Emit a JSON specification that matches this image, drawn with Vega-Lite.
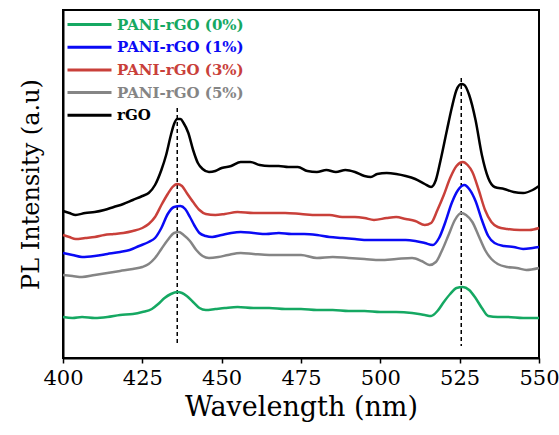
{
  "$schema": "https://vega.github.io/schema/vega-lite/v6.json",
  "width": 476,
  "height": 348,
  "autosize": {"type": "none"},
  "padding": {"left": 63, "top": 10, "right": 20, "bottom": 77},
  "background": "white",
  "config": {
    "view": {"stroke": "black", "strokeWidth": 2},
    "font": "DejaVu Serif"
  },
  "datasets": {
    "spectra": [
      {"series": "rGO", "wl": 400, "py": 211}, {"series": "rGO", "wl": 402, "py": 213}, {"series": "rGO", "wl": 404, "py": 215}, {"series": "rGO", "wl": 407, "py": 213}, {"series": "rGO", "wl": 410, "py": 212}, {"series": "rGO", "wl": 413, "py": 210}, {"series": "rGO", "wl": 416, "py": 207}, {"series": "rGO", "wl": 419, "py": 204}, {"series": "rGO", "wl": 422, "py": 200}, {"series": "rGO", "wl": 425, "py": 196}, {"series": "rGO", "wl": 427, "py": 193}, {"series": "rGO", "wl": 429, "py": 185}, {"series": "rGO", "wl": 431, "py": 170}, {"series": "rGO", "wl": 432.5, "py": 155}, {"series": "rGO", "wl": 434, "py": 135}, {"series": "rGO", "wl": 435, "py": 124}, {"series": "rGO", "wl": 436, "py": 119}, {"series": "rGO", "wl": 437, "py": 119}, {"series": "rGO", "wl": 438, "py": 123}, {"series": "rGO", "wl": 439.5, "py": 133}, {"series": "rGO", "wl": 441, "py": 150}, {"series": "rGO", "wl": 442.5, "py": 163}, {"series": "rGO", "wl": 444, "py": 169}, {"series": "rGO", "wl": 446, "py": 172}, {"series": "rGO", "wl": 448, "py": 171}, {"series": "rGO", "wl": 450, "py": 168}, {"series": "rGO", "wl": 453, "py": 166}, {"series": "rGO", "wl": 456, "py": 162}, {"series": "rGO", "wl": 459, "py": 162}, {"series": "rGO", "wl": 462, "py": 165}, {"series": "rGO", "wl": 465, "py": 166}, {"series": "rGO", "wl": 468, "py": 166}, {"series": "rGO", "wl": 471, "py": 167}, {"series": "rGO", "wl": 474, "py": 167}, {"series": "rGO", "wl": 477, "py": 171}, {"series": "rGO", "wl": 480, "py": 172}, {"series": "rGO", "wl": 483, "py": 170}, {"series": "rGO", "wl": 486, "py": 172}, {"series": "rGO", "wl": 489, "py": 170}, {"series": "rGO", "wl": 492, "py": 172}, {"series": "rGO", "wl": 495, "py": 176}, {"series": "rGO", "wl": 497, "py": 177}, {"series": "rGO", "wl": 499, "py": 174}, {"series": "rGO", "wl": 502, "py": 173}, {"series": "rGO", "wl": 505, "py": 174}, {"series": "rGO", "wl": 508, "py": 176}, {"series": "rGO", "wl": 511, "py": 179}, {"series": "rGO", "wl": 514, "py": 184}, {"series": "rGO", "wl": 516, "py": 187}, {"series": "rGO", "wl": 517.5, "py": 180}, {"series": "rGO", "wl": 519, "py": 160}, {"series": "rGO", "wl": 521, "py": 130}, {"series": "rGO", "wl": 522.5, "py": 108}, {"series": "rGO", "wl": 524, "py": 90}, {"series": "rGO", "wl": 525.5, "py": 84}, {"series": "rGO", "wl": 526.5, "py": 85}, {"series": "rGO", "wl": 528, "py": 95}, {"series": "rGO", "wl": 530, "py": 120}, {"series": "rGO", "wl": 532, "py": 155}, {"series": "rGO", "wl": 534, "py": 178}, {"series": "rGO", "wl": 536, "py": 187}, {"series": "rGO", "wl": 539, "py": 189}, {"series": "rGO", "wl": 542, "py": 192}, {"series": "rGO", "wl": 545, "py": 193}, {"series": "rGO", "wl": 548, "py": 190}, {"series": "rGO", "wl": 550, "py": 186},

      {"series": "PANI-rGO (3%)", "wl": 400, "py": 235}, {"series": "PANI-rGO (3%)", "wl": 402, "py": 237}, {"series": "PANI-rGO (3%)", "wl": 404, "py": 239}, {"series": "PANI-rGO (3%)", "wl": 407, "py": 238}, {"series": "PANI-rGO (3%)", "wl": 410, "py": 237}, {"series": "PANI-rGO (3%)", "wl": 413, "py": 235}, {"series": "PANI-rGO (3%)", "wl": 416, "py": 234}, {"series": "PANI-rGO (3%)", "wl": 419, "py": 233}, {"series": "PANI-rGO (3%)", "wl": 422, "py": 231}, {"series": "PANI-rGO (3%)", "wl": 425, "py": 228}, {"series": "PANI-rGO (3%)", "wl": 427, "py": 224}, {"series": "PANI-rGO (3%)", "wl": 429, "py": 217}, {"series": "PANI-rGO (3%)", "wl": 431, "py": 205}, {"series": "PANI-rGO (3%)", "wl": 433, "py": 194}, {"series": "PANI-rGO (3%)", "wl": 434.5, "py": 187}, {"series": "PANI-rGO (3%)", "wl": 436, "py": 184}, {"series": "PANI-rGO (3%)", "wl": 437.5, "py": 186}, {"series": "PANI-rGO (3%)", "wl": 439, "py": 193}, {"series": "PANI-rGO (3%)", "wl": 441, "py": 202}, {"series": "PANI-rGO (3%)", "wl": 443, "py": 210}, {"series": "PANI-rGO (3%)", "wl": 445, "py": 214}, {"series": "PANI-rGO (3%)", "wl": 448, "py": 215}, {"series": "PANI-rGO (3%)", "wl": 451, "py": 214}, {"series": "PANI-rGO (3%)", "wl": 455, "py": 212}, {"series": "PANI-rGO (3%)", "wl": 460, "py": 213}, {"series": "PANI-rGO (3%)", "wl": 465, "py": 213}, {"series": "PANI-rGO (3%)", "wl": 470, "py": 213}, {"series": "PANI-rGO (3%)", "wl": 475, "py": 214}, {"series": "PANI-rGO (3%)", "wl": 480, "py": 215}, {"series": "PANI-rGO (3%)", "wl": 484, "py": 215}, {"series": "PANI-rGO (3%)", "wl": 488, "py": 217}, {"series": "PANI-rGO (3%)", "wl": 492, "py": 217}, {"series": "PANI-rGO (3%)", "wl": 495, "py": 218}, {"series": "PANI-rGO (3%)", "wl": 498, "py": 220}, {"series": "PANI-rGO (3%)", "wl": 502, "py": 218}, {"series": "PANI-rGO (3%)", "wl": 505, "py": 217}, {"series": "PANI-rGO (3%)", "wl": 508, "py": 219}, {"series": "PANI-rGO (3%)", "wl": 511, "py": 221}, {"series": "PANI-rGO (3%)", "wl": 514, "py": 225}, {"series": "PANI-rGO (3%)", "wl": 516, "py": 223}, {"series": "PANI-rGO (3%)", "wl": 518, "py": 210}, {"series": "PANI-rGO (3%)", "wl": 520, "py": 195}, {"series": "PANI-rGO (3%)", "wl": 522, "py": 178}, {"series": "PANI-rGO (3%)", "wl": 524, "py": 166}, {"series": "PANI-rGO (3%)", "wl": 526, "py": 162}, {"series": "PANI-rGO (3%)", "wl": 527.5, "py": 165}, {"series": "PANI-rGO (3%)", "wl": 529, "py": 172}, {"series": "PANI-rGO (3%)", "wl": 531, "py": 190}, {"series": "PANI-rGO (3%)", "wl": 533, "py": 210}, {"series": "PANI-rGO (3%)", "wl": 535, "py": 222}, {"series": "PANI-rGO (3%)", "wl": 537, "py": 227}, {"series": "PANI-rGO (3%)", "wl": 540, "py": 229}, {"series": "PANI-rGO (3%)", "wl": 544, "py": 230}, {"series": "PANI-rGO (3%)", "wl": 547, "py": 230}, {"series": "PANI-rGO (3%)", "wl": 550, "py": 228},

      {"series": "PANI-rGO (1%)", "wl": 400, "py": 253}, {"series": "PANI-rGO (1%)", "wl": 403, "py": 255}, {"series": "PANI-rGO (1%)", "wl": 406, "py": 257}, {"series": "PANI-rGO (1%)", "wl": 410, "py": 256}, {"series": "PANI-rGO (1%)", "wl": 414, "py": 254}, {"series": "PANI-rGO (1%)", "wl": 418, "py": 252}, {"series": "PANI-rGO (1%)", "wl": 421, "py": 250}, {"series": "PANI-rGO (1%)", "wl": 424, "py": 246}, {"series": "PANI-rGO (1%)", "wl": 427, "py": 242}, {"series": "PANI-rGO (1%)", "wl": 429, "py": 238}, {"series": "PANI-rGO (1%)", "wl": 431, "py": 228}, {"series": "PANI-rGO (1%)", "wl": 433, "py": 214}, {"series": "PANI-rGO (1%)", "wl": 435, "py": 207}, {"series": "PANI-rGO (1%)", "wl": 437, "py": 206}, {"series": "PANI-rGO (1%)", "wl": 438.5, "py": 209}, {"series": "PANI-rGO (1%)", "wl": 440, "py": 217}, {"series": "PANI-rGO (1%)", "wl": 441.5, "py": 226}, {"series": "PANI-rGO (1%)", "wl": 443, "py": 233}, {"series": "PANI-rGO (1%)", "wl": 445, "py": 236}, {"series": "PANI-rGO (1%)", "wl": 447, "py": 237}, {"series": "PANI-rGO (1%)", "wl": 450, "py": 235}, {"series": "PANI-rGO (1%)", "wl": 453, "py": 233}, {"series": "PANI-rGO (1%)", "wl": 456, "py": 232}, {"series": "PANI-rGO (1%)", "wl": 460, "py": 233}, {"series": "PANI-rGO (1%)", "wl": 464, "py": 234}, {"series": "PANI-rGO (1%)", "wl": 468, "py": 233}, {"series": "PANI-rGO (1%)", "wl": 472, "py": 234}, {"series": "PANI-rGO (1%)", "wl": 476, "py": 234}, {"series": "PANI-rGO (1%)", "wl": 480, "py": 235}, {"series": "PANI-rGO (1%)", "wl": 484, "py": 237}, {"series": "PANI-rGO (1%)", "wl": 488, "py": 238}, {"series": "PANI-rGO (1%)", "wl": 492, "py": 239}, {"series": "PANI-rGO (1%)", "wl": 496, "py": 240}, {"series": "PANI-rGO (1%)", "wl": 500, "py": 240}, {"series": "PANI-rGO (1%)", "wl": 504, "py": 240}, {"series": "PANI-rGO (1%)", "wl": 508, "py": 240}, {"series": "PANI-rGO (1%)", "wl": 511, "py": 241}, {"series": "PANI-rGO (1%)", "wl": 514, "py": 243}, {"series": "PANI-rGO (1%)", "wl": 516.5, "py": 245}, {"series": "PANI-rGO (1%)", "wl": 518.5, "py": 238}, {"series": "PANI-rGO (1%)", "wl": 520.5, "py": 222}, {"series": "PANI-rGO (1%)", "wl": 522.5, "py": 203}, {"series": "PANI-rGO (1%)", "wl": 524.5, "py": 190}, {"series": "PANI-rGO (1%)", "wl": 526.5, "py": 185}, {"series": "PANI-rGO (1%)", "wl": 528, "py": 189}, {"series": "PANI-rGO (1%)", "wl": 530, "py": 201}, {"series": "PANI-rGO (1%)", "wl": 532, "py": 220}, {"series": "PANI-rGO (1%)", "wl": 534, "py": 236}, {"series": "PANI-rGO (1%)", "wl": 536, "py": 243}, {"series": "PANI-rGO (1%)", "wl": 539, "py": 246}, {"series": "PANI-rGO (1%)", "wl": 542, "py": 247}, {"series": "PANI-rGO (1%)", "wl": 545, "py": 249}, {"series": "PANI-rGO (1%)", "wl": 548, "py": 248}, {"series": "PANI-rGO (1%)", "wl": 550, "py": 247},

      {"series": "PANI-rGO (5%)", "wl": 400, "py": 275}, {"series": "PANI-rGO (5%)", "wl": 403, "py": 276}, {"series": "PANI-rGO (5%)", "wl": 406, "py": 277}, {"series": "PANI-rGO (5%)", "wl": 410, "py": 275}, {"series": "PANI-rGO (5%)", "wl": 414, "py": 273}, {"series": "PANI-rGO (5%)", "wl": 418, "py": 271}, {"series": "PANI-rGO (5%)", "wl": 422, "py": 269}, {"series": "PANI-rGO (5%)", "wl": 425, "py": 267}, {"series": "PANI-rGO (5%)", "wl": 427, "py": 264}, {"series": "PANI-rGO (5%)", "wl": 429, "py": 258}, {"series": "PANI-rGO (5%)", "wl": 431, "py": 249}, {"series": "PANI-rGO (5%)", "wl": 433, "py": 240}, {"series": "PANI-rGO (5%)", "wl": 435, "py": 233}, {"series": "PANI-rGO (5%)", "wl": 436.5, "py": 232}, {"series": "PANI-rGO (5%)", "wl": 438, "py": 235}, {"series": "PANI-rGO (5%)", "wl": 440, "py": 241}, {"series": "PANI-rGO (5%)", "wl": 442, "py": 250}, {"series": "PANI-rGO (5%)", "wl": 444, "py": 256}, {"series": "PANI-rGO (5%)", "wl": 446, "py": 258}, {"series": "PANI-rGO (5%)", "wl": 449, "py": 257}, {"series": "PANI-rGO (5%)", "wl": 452, "py": 255}, {"series": "PANI-rGO (5%)", "wl": 456, "py": 253}, {"series": "PANI-rGO (5%)", "wl": 460, "py": 254}, {"series": "PANI-rGO (5%)", "wl": 465, "py": 255}, {"series": "PANI-rGO (5%)", "wl": 470, "py": 255}, {"series": "PANI-rGO (5%)", "wl": 475, "py": 255}, {"series": "PANI-rGO (5%)", "wl": 480, "py": 258}, {"series": "PANI-rGO (5%)", "wl": 485, "py": 257}, {"series": "PANI-rGO (5%)", "wl": 490, "py": 258}, {"series": "PANI-rGO (5%)", "wl": 495, "py": 259}, {"series": "PANI-rGO (5%)", "wl": 500, "py": 260}, {"series": "PANI-rGO (5%)", "wl": 505, "py": 259}, {"series": "PANI-rGO (5%)", "wl": 510, "py": 258}, {"series": "PANI-rGO (5%)", "wl": 513, "py": 261}, {"series": "PANI-rGO (5%)", "wl": 515.5, "py": 265}, {"series": "PANI-rGO (5%)", "wl": 517.5, "py": 262}, {"series": "PANI-rGO (5%)", "wl": 519.5, "py": 250}, {"series": "PANI-rGO (5%)", "wl": 521.5, "py": 235}, {"series": "PANI-rGO (5%)", "wl": 523.5, "py": 220}, {"series": "PANI-rGO (5%)", "wl": 525.5, "py": 213}, {"series": "PANI-rGO (5%)", "wl": 527, "py": 215}, {"series": "PANI-rGO (5%)", "wl": 529, "py": 222}, {"series": "PANI-rGO (5%)", "wl": 531, "py": 236}, {"series": "PANI-rGO (5%)", "wl": 533, "py": 250}, {"series": "PANI-rGO (5%)", "wl": 535, "py": 259}, {"series": "PANI-rGO (5%)", "wl": 537, "py": 264}, {"series": "PANI-rGO (5%)", "wl": 540, "py": 267}, {"series": "PANI-rGO (5%)", "wl": 543, "py": 268}, {"series": "PANI-rGO (5%)", "wl": 546, "py": 270}, {"series": "PANI-rGO (5%)", "wl": 550, "py": 268},

      {"series": "PANI-rGO (0%)", "wl": 400, "py": 317}, {"series": "PANI-rGO (0%)", "wl": 403, "py": 318}, {"series": "PANI-rGO (0%)", "wl": 406, "py": 317}, {"series": "PANI-rGO (0%)", "wl": 410, "py": 318}, {"series": "PANI-rGO (0%)", "wl": 414, "py": 317}, {"series": "PANI-rGO (0%)", "wl": 418, "py": 315}, {"series": "PANI-rGO (0%)", "wl": 422, "py": 314}, {"series": "PANI-rGO (0%)", "wl": 425, "py": 312}, {"series": "PANI-rGO (0%)", "wl": 428, "py": 309}, {"series": "PANI-rGO (0%)", "wl": 430, "py": 304}, {"series": "PANI-rGO (0%)", "wl": 432, "py": 298}, {"series": "PANI-rGO (0%)", "wl": 434, "py": 294}, {"series": "PANI-rGO (0%)", "wl": 436, "py": 292}, {"series": "PANI-rGO (0%)", "wl": 437.5, "py": 293}, {"series": "PANI-rGO (0%)", "wl": 439, "py": 296}, {"series": "PANI-rGO (0%)", "wl": 441, "py": 302}, {"series": "PANI-rGO (0%)", "wl": 443, "py": 308}, {"series": "PANI-rGO (0%)", "wl": 445, "py": 310}, {"series": "PANI-rGO (0%)", "wl": 448, "py": 309}, {"series": "PANI-rGO (0%)", "wl": 451, "py": 308}, {"series": "PANI-rGO (0%)", "wl": 455, "py": 307}, {"series": "PANI-rGO (0%)", "wl": 460, "py": 308}, {"series": "PANI-rGO (0%)", "wl": 465, "py": 308}, {"series": "PANI-rGO (0%)", "wl": 470, "py": 309}, {"series": "PANI-rGO (0%)", "wl": 475, "py": 309}, {"series": "PANI-rGO (0%)", "wl": 480, "py": 310}, {"series": "PANI-rGO (0%)", "wl": 485, "py": 310}, {"series": "PANI-rGO (0%)", "wl": 490, "py": 311}, {"series": "PANI-rGO (0%)", "wl": 495, "py": 311}, {"series": "PANI-rGO (0%)", "wl": 500, "py": 312}, {"series": "PANI-rGO (0%)", "wl": 505, "py": 312}, {"series": "PANI-rGO (0%)", "wl": 510, "py": 313}, {"series": "PANI-rGO (0%)", "wl": 514, "py": 315}, {"series": "PANI-rGO (0%)", "wl": 516, "py": 316}, {"series": "PANI-rGO (0%)", "wl": 518, "py": 311}, {"series": "PANI-rGO (0%)", "wl": 520, "py": 302}, {"series": "PANI-rGO (0%)", "wl": 522, "py": 294}, {"series": "PANI-rGO (0%)", "wl": 524, "py": 288}, {"series": "PANI-rGO (0%)", "wl": 526, "py": 287}, {"series": "PANI-rGO (0%)", "wl": 528, "py": 290}, {"series": "PANI-rGO (0%)", "wl": 530, "py": 298}, {"series": "PANI-rGO (0%)", "wl": 532, "py": 308}, {"series": "PANI-rGO (0%)", "wl": 534, "py": 316}, {"series": "PANI-rGO (0%)", "wl": 537, "py": 317}, {"series": "PANI-rGO (0%)", "wl": 540, "py": 317}, {"series": "PANI-rGO (0%)", "wl": 545, "py": 318}, {"series": "PANI-rGO (0%)", "wl": 550, "py": 318}
    ],
    "peaks": [
      {"wl": 436, "top": 108, "bottom": 344},
      {"wl": 525.5, "top": 78, "bottom": 346}
    ]
  },
  "layer": [
    {
      "data": {"name": "peaks"},
      "mark": {"type": "rule", "color": "black", "strokeWidth": 1.5, "strokeDash": [4, 3]},
      "encoding": {
        "x": {"field": "wl", "type": "quantitative", "scale": {"domain": [400, 550]}},
        "y": {"field": "top", "type": "quantitative", "scale": {"domain": [358, 10], "nice": false, "zero": false}},
        "y2": {"field": "bottom"}
      }
    },
    {
      "data": {"name": "spectra"},
      "mark": {"type": "line", "strokeWidth": 2.5, "interpolate": "monotone"},
      "encoding": {
        "x": {
          "field": "wl", "type": "quantitative",
          "scale": {"domain": [400, 550], "nice": false, "zero": false},
          "axis": {
            "title": "Wavelength (nm)",
            "values": [400, 412.5, 425, 437.5, 450, 462.5, 475, 487.5, 500, 512.5, 525, 537.5, 550],
            "labelExpr": "datum.value % 25 === 0 ? datum.label : ''",
            "labelFlush": false,
            "labelOverlap": false,
            "grid": false,
            "domainColor": "black", "domainWidth": 2,
            "tickColor": "black", "tickWidth": 1.5, "tickSize": 5,
            "labelFont": "DejaVu Serif", "labelFontSize": 21, "labelColor": "black", "labelPadding": 4,
            "titleFont": "DejaVu Serif", "titleFontSize": 27, "titleFontWeight": "normal", "titleColor": "black", "titlePadding": 6
          }
        },
        "y": {
          "field": "py", "type": "quantitative",
          "scale": {"domain": [358, 10], "nice": false, "zero": false},
          "axis": {
            "title": "PL Intensity (a.u)",
            "labels": false, "ticks": false, "grid": false,
            "domainColor": "black", "domainWidth": 2,
            "titleFont": "DejaVu Serif", "titleFontSize": 24, "titleFontWeight": "normal", "titleColor": "black", "titlePadding": 20
          }
        },
        "color": {
          "field": "series", "type": "nominal",
          "scale": {
            "domain": ["PANI-rGO (0%)", "PANI-rGO (1%)", "PANI-rGO (3%)", "PANI-rGO (5%)", "rGO"],
            "range": ["#15a862", "#0a0af5", "#c9403a", "#858585", "#000000"]
          },
          "legend": {
            "title": null,
            "orient": "none",
            "legendX": 14,
            "legendY": 2,
            "symbolType": "M-2,0H2",
            "symbolSize": 484,
            "symbolStrokeWidth": 3,
            "symbolFillColor": "transparent",
            "labelFont": "DejaVu Serif",
            "labelFontWeight": "bold",
            "labelFontSize": 15,
            "labelOffset": 15,
            "rowPadding": 1.7,
            "labelLimit": 300,
            "encode": {"labels": {"update": {"fill": {"scale": "color", "field": "value"}}}}
          }
        },
        "order": {"field": "series"}
      }
    }
  ]
}
